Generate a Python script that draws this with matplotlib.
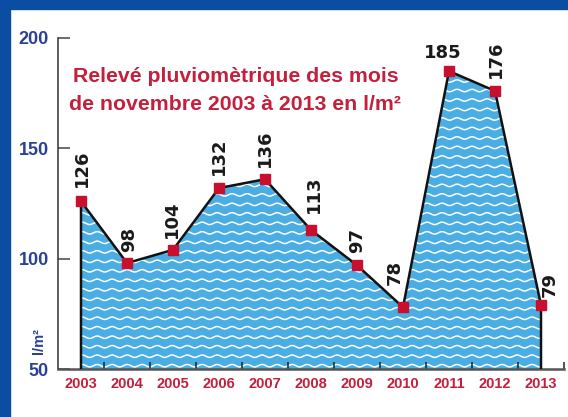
import numpy as np
import matplotlib.pyplot as plt
from matplotlib.patches import Rectangle

# rainfall in November, l/m2
years = [2003, 2004, 2005, 2006, 2007, 2008, 2009, 2010, 2011, 2012, 2013]
rain = [126, 98, 104, 132, 136, 113, 97, 78, 185, 176, 79]
yticks = [50, 100, 150, 200]

# label offsets in pixels (dx, gap above marker), tuned by eye
offsets = [(1, 14), (2, 11), (-1, 12), (0, 13), (0, 12), (3, 17),
           (0, 12), (-8, 22), (-6, 9), (1, 13), (9, 8)]

narrow = ['Liberation Sans', 'DejaVu Sans']
blue = '#2B4196'
red = '#C41F3B'
water = '#4AADE3'

fig = plt.figure(figsize=(5.68, 4.17), dpi=100)
fig.patches.append(Rectangle((0, 0), 10 / 568, 1, transform=fig.transFigure,
                             color='#0A4DA2', zorder=0))
fig.patches.append(Rectangle((0, 1 - 9 / 417), 1, 9 / 417, transform=fig.transFigure,
                             color='#0A4DA2', zorder=0))

ax = fig.add_axes([58 / 568, 48 / 417, 506 / 568, 331 / 417])
ax.set_xlim(2002.5, 2013.5)
ax.set_ylim(50, 200)

poly = ax.fill_between(years, rain, 50, color=water, lw=0, zorder=1)

# white wave texture, clipped to the filled area
xw = np.linspace(2002.5, 2013.5, 1200)
for y0 in np.arange(51.5, 200, 4.3):
    ln, = ax.plot(xw, y0 + 0.55 * np.sin(xw * 2 * np.pi / 0.326), color='white',
                  lw=1.1, zorder=1.2)
    ln.set_clip_path(poly.get_paths()[0], poly.get_transform())

ax.plot([years[0]] + years + [years[-1]], [50] + rain + [50], color='#111111',
        lw=1.8, zorder=3)
ax.plot(years, rain, 's', color='#C8102E', ms=7.2, zorder=4)

for x, v, (dx, dy) in zip(years, rain, offsets):
    rot = 0 if v == 185 else 90
    ax.annotate(str(v), (x, v), xytext=(dx, dy), textcoords='offset pixels',
                rotation=rot, ha='center', va='bottom', fontsize=13,
                fontweight='bold', color='#1a1a1a', zorder=5)

for s in ['top', 'right']:
    ax.spines[s].set_visible(False)
ax.spines['left'].set_color('#333333')
ax.spines['left'].set_linewidth(1.1)
ax.spines['bottom'].set_color('#555555')
ax.spines['bottom'].set_linewidth(1.8)

ax.set_yticks(yticks)
ax.set_yticklabels([str(t) for t in yticks], family=narrow, fontweight='bold',
                   fontsize=13, color=blue)
ax.tick_params(axis='y', direction='in', length=8.6, width=1.1, color='#444444', pad=6.5)

ax.set_xticks(years)
ax.set_xticklabels([str(y) for y in years], family=narrow, fontweight='bold',
                   fontsize=10.5, color=red)
ax.set_xticks([y + 0.5 for y in years], minor=True)
ax.tick_params(axis='x', which='major', length=0, pad=6)
ax.tick_params(axis='x', which='minor', direction='in', length=5, width=1.1,
               color='#222222')

fig.text(236 / 568, 1 - 82 / 417, 'Relevé pluviomètrique des mois', family=narrow,
         fontweight='bold', fontsize=15.3, color=red, ha='center', va='baseline')
fig.text(235 / 568, 1 - 110 / 417, 'de novembre 2003 à 2013 en l/m²', family=narrow,
         fontweight='bold', fontsize=15.3, color=red, ha='center', va='baseline')
fig.text(39 / 568, 1 - 341 / 417, 'l/m²', family=narrow, fontweight='bold',
         fontsize=10.5, color=blue, rotation=90, ha='center', va='center')

fig.savefig('out.png', dpi=100)
